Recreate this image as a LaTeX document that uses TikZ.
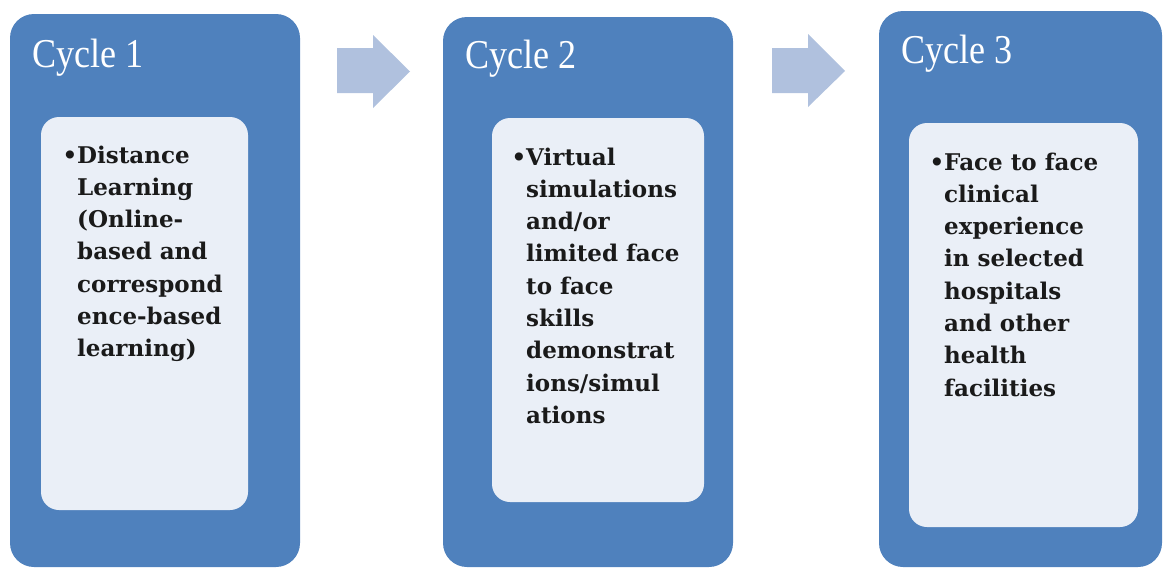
\documentclass[tikz,border=0pt]{standalone}
\usepackage{fontspec}
\setmainfont{DejaVu Serif}
\newfontfamily\titlefont[FakeStretch=0.88]{Liberation Serif}
\definecolor{outerblue}{HTML}{4F81BD}
\definecolor{innerfill}{HTML}{EAEFF7}
\definecolor{arrowfill}{HTML}{B0C1DE}
\definecolor{bodytext}{HTML}{1A1A1A}
\tikzset{
  outerbox/.style={fill=outerblue, draw=none, rounded corners=24pt, inner sep=0pt},
  innerbox/.style={fill=innerfill, draw=none, rounded corners=18pt, inner sep=0pt},
  titletext/.style={anchor=base west, inner sep=0pt, text=white, font=\titlefont\fontsize{41}{48}\selectfont},
  bodytextnode/.style={anchor=base west, inner sep=0pt, text=bodytext, font=\bfseries\fontsize{23}{32.3}\selectfont},
  flowarrow/.style={fill=arrowfill, draw=none}
}
\newcommand{\lines}[1]{\begin{tabular}[t]{@{}l@{}}#1\end{tabular}}
\begin{document}
\begin{tikzpicture}[x=1pt,y=-1pt]
\useasboundingbox (0,0) rectangle (1163,568);
% outer boxes
\node[outerbox, minimum width=290pt, minimum height=553pt] (c1) at (155,290.5) {};
\node[outerbox, minimum width=290pt, minimum height=550pt] (c2) at (588,292) {};
\node[outerbox, minimum width=283pt, minimum height=556pt] (c3) at (1020.5,289) {};
% inner boxes
\node[innerbox, minimum width=207pt, minimum height=393pt] (i1) at (144.5,313.5) {};
\node[innerbox, minimum width=212pt, minimum height=384pt] (i2) at (598,310) {};
\node[innerbox, minimum width=229pt, minimum height=404pt] (i3) at (1023.5,325) {};
% arrows
\fill[flowarrow] (337,48) -- (373,48) -- (373,35) -- (410,71.5) -- (373,108) -- (373,93) -- (337,93) -- cycle;
\fill[flowarrow] (772,48) -- (808,48) -- (808,34) -- (845,71) -- (808,107) -- (808,93) -- (772,93) -- cycle;
% titles
\node[titletext] (t1) at (32,67) {Cycle 1};
\node[titletext] (t2) at (465,68) {Cycle 2};
\node[titletext] (t3) at (901,63) {Cycle 3};
% body texts
\node[bodytextnode] (b1) at (77,163) {\lines{\llap{•}Distance\\Learning\\(Online-\\based and\\correspond\\ence-based\\learning)}};
\node[bodytextnode] (b2) at (526,165) {\lines{\llap{•}Virtual\\simulations\\and/or\\limited face\\to face\\skills\\demonstrat\\ions/simul\\ations}};
\node[bodytextnode] (b3) at (944,170) {\lines{\llap{•}Face to face\\clinical\\experience\\in selected\\hospitals\\and other\\health\\facilities}};
\end{tikzpicture}
\end{document}
